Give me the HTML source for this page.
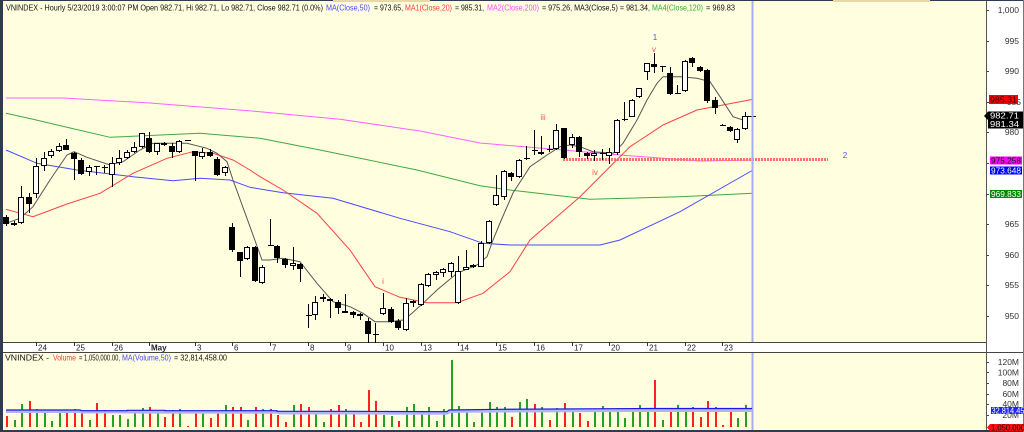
<!DOCTYPE html>
<html><head><meta charset="utf-8"><style>
html,body{margin:0;padding:0;background:#fff;}
svg{display:block;font-family:"Liberation Sans",Arial,sans-serif;}
</style></head><body>
<svg width="1024" height="432" viewBox="0 0 1024 432" xmlns="http://www.w3.org/2000/svg">
<rect x="0" y="0" width="1024" height="432" fill="#ffffff"/>
<rect x="3" y="1" width="983" height="341" fill="#ffffe0"/>
<rect x="3" y="353" width="983" height="77" fill="#ffffe0"/>
<rect x="3" y="342" width="983" height="10" fill="#ffffff"/>
<line x1="3" y1="342.5" x2="986" y2="342.5" stroke="#444" stroke-width="1"/>
<line x1="3" y1="352.5" x2="1024" y2="352.5" stroke="#444" stroke-width="1"/>
<line x1="986.5" y1="0" x2="986.5" y2="432" stroke="#555" stroke-width="1"/>
<rect x="0" y="0" width="3" height="432" fill="#2f3b50"/>
<rect x="0" y="0" width="1024" height="1" fill="#2f3b50"/>
<rect x="0" y="430" width="1024" height="2" fill="#2f3b50"/>
<rect x="1023" y="0" width="1" height="432" fill="#777"/>
<rect x="333" y="0" width="97" height="2" fill="#e8d8a8"/>
<rect x="833" y="0" width="97" height="2" fill="#e8d8a8"/>

<!-- header -->
<g font-size="8.5" fill="#111">
<text x="6" y="10.5" textLength="317" lengthAdjust="spacingAndGlyphs">VNINDEX - Hourly 5/23/2019 3:00:07 PM Open 982.71, Hi 982.71, Lo 982.71, Close 982.71 (0.0%)</text>
<text x="326" y="10.5" textLength="44" lengthAdjust="spacingAndGlyphs" fill="#4848ff">MA(Close,50)</text>
<text x="374" y="10.5" textLength="29" lengthAdjust="spacingAndGlyphs">= 973.65,</text>
<text x="405" y="10.5" textLength="47" lengthAdjust="spacingAndGlyphs" fill="#ff3838">MA1(Close,20)</text>
<text x="455" y="10.5" textLength="29" lengthAdjust="spacingAndGlyphs">= 985.31,</text>
<text x="487" y="10.5" textLength="52" lengthAdjust="spacingAndGlyphs" fill="#ff48ff">MA2(Close,200)</text>
<text x="542" y="10.5" textLength="108" lengthAdjust="spacingAndGlyphs">= 975.26, MA3(Close,5) = 981.34,</text>
<text x="652" y="10.5" textLength="51" lengthAdjust="spacingAndGlyphs" fill="#38a838">MA4(Close,120)</text>
<text x="706" y="10.5" textLength="29" lengthAdjust="spacingAndGlyphs">= 969.83</text>
</g>

<!-- moving averages -->
<g fill="none" stroke-width="1">
<polyline stroke="#ff60ff" points="6,98 63,98 150,103 260,111.7 340,119.3 420,131 480,143 563,150 620,155 700,161 753,160"/>
<polyline stroke="#40a840" points="6,113.3 33,119.3 110,137.3 200,133.3 260,138.3 320,150 417,170 480,185.7 510,190 590,199.3 680,196.7 753,193.3"/>
<polyline stroke="#4a4aff" points="6,150 37,163.3 77,170 133,176.7 173,180.7 200,178.3 230,180 250,187.3 283,192.7 333,198.3 400,218.3 450,231.7 483,243.3 510,245 600,245 620,240 680,211.7 753,170"/>
<polyline stroke="#ff4040" points="6,209.3 33,216.7 67,204 100,193.3 133,173.3 167,158.3 193,151.7 213,153.3 233,160 250,170 260,176.7 283,190 317,213.3 350,250 375,286.7 400,297.3 427,302.7 457,302.7 483,293.3 510,271.7 530,240 580,196.7 630,146.7 663,125 697,110 753,99.3"/>
<polyline stroke="#555" points="6,223.3 20,218.3 33,206.7 50,180 67,155 74,151.7 87,157.3 110,165 123,161.7 140,150 153,143.3 187,143.3 207,148.3 217,153.3 227,161.7 233,180 250,226.7 262,260 270,260 283,258.3 300,261.7 317,283.3 333,301.7 350,306.7 363,313.3 375,321.7 390,321.7 403,320 410,315 423,303.3 437,290 457,273.3 477,265 487,256.7 493,240 500,223 510,200 513,193 530,166.7 547,155 560,146.7 570,145 580,146.7 593,151.7 613,153.3 623,143.3 637,120 647,100 657,83.3 663,76.7 680,76.7 697,78.3 710,81.7 720,96.7 733,116.7 743,120"/>
</g>
<line x1="563" y1="159.5" x2="828" y2="159.5" stroke="#ff7070" stroke-width="3" stroke-dasharray="2 1"/>

<!-- candles -->
<path stroke="#000" stroke-width="1" fill="none" d="M6.5 215V226M14.5 221V226M21.5 186V224M29.5 193V213M36.5 158V198M44.5 152V171M51.5 149V158M59.5 143V152M66.5 139V150M74.5 152V180M81.5 158V175M89.5 165V176M96.5 166V175M104.5 165V173M112.5 157V187M119.5 150V165M127.5 150V159M134.5 142V153M142.5 133V148M149.5 132V153M157.5 143V155M164.5 142V146M172.5 143V158M179.5 140V153M195.5 151V181M202.5 148V159M210.5 149V157M217.5 157V176M225.5 166V176M232.5 223V252M240.5 252V277M247.5 246V260M255.5 246V282M262.5 265V284M270.5 219V246M277.5 245V263M285.5 258V268M293.5 247V270M300.5 263V282M308.5 304V328M315.5 296V320M323.5 294V302M330.5 298V318M338.5 300V314M345.5 294V313M353.5 311V318M360.5 313V320M368.5 318V343M375.5 323V343M383.5 293V315M391.5 307V323M398.5 319V330M406.5 298V331M413.5 300V307M421.5 283V306M428.5 273V287M436.5 271V280M443.5 268V277M451.5 262V277M458.5 256V304M466.5 250V270M473.5 264V268M481.5 241V267M489.5 220V244M496.5 175V206M504.5 170V200M511.5 172V181M519.5 159V178M526.5 146V160M534.5 130V155M541.5 136V155M549.5 145V152M556.5 124V150M564.5 128V159M572.5 134V148M579.5 136V157M587.5 152V159M594.5 150V161M602.5 149V160M609.5 148V164M617.5 119V155M624.5 102V121M632.5 99V117M639.5 88V98M647.5 63V80M654.5 53V73M662.5 66V72M670.5 67V95M677.5 85V94M685.5 60V92M692.5 57V67M700.5 66V72M707.5 69V103M715.5 97V114M722.5 124V126M730.5 126V132M737.5 128V143M745.5 112V130"/>
<path stroke="#000" stroke-width="1" fill="none" d="M94 166.5H100M102 167.5H108M185 140.5H191M268 245.5H274M306 315.5H312M373 334.5H379M524 158.5H530M532 150.5H538M547 149.5H553M600 153.5H606M622 119.5H628M660 66.5H666M675 93.5H681M720 125.5H726M745 116.5H756"/>
<g fill="#fff" stroke="#000" stroke-width="1">
<rect x="11.5" y="223.5" width="5" height="1"/>
<rect x="18.5" y="197.5" width="5" height="25"/>
<rect x="33.5" y="166.5" width="5" height="27"/>
<rect x="41.5" y="158.5" width="5" height="7"/>
<rect x="48.5" y="151.5" width="5" height="4"/>
<rect x="56.5" y="146.5" width="5" height="4"/>
<rect x="86.5" y="167.5" width="5" height="4"/>
<rect x="109.5" y="163.5" width="5" height="11"/>
<rect x="116.5" y="158.5" width="5" height="4"/>
<rect x="124.5" y="152.5" width="5" height="5"/>
<rect x="131.5" y="147.5" width="5" height="4"/>
<rect x="139.5" y="133.5" width="5" height="13"/>
<rect x="154.5" y="143.5" width="5" height="8"/>
<rect x="176.5" y="141.5" width="5" height="10"/>
<rect x="199.5" y="152.5" width="5" height="4"/>
<rect x="222.5" y="167.5" width="5" height="5"/>
<rect x="244.5" y="247.5" width="5" height="11"/>
<rect x="259.5" y="267.5" width="5" height="15"/>
<rect x="290.5" y="263.5" width="5" height="2"/>
<rect x="312.5" y="302.5" width="5" height="12"/>
<rect x="320.5" y="297.5" width="5" height="1"/>
<rect x="342.5" y="311.5" width="5" height="1"/>
<rect x="380.5" y="308.5" width="5" height="5"/>
<rect x="403.5" y="303.5" width="5" height="26"/>
<rect x="410.5" y="301.5" width="5" height="1"/>
<rect x="418.5" y="284.5" width="5" height="20"/>
<rect x="425.5" y="274.5" width="5" height="11"/>
<rect x="433.5" y="272.5" width="5" height="2"/>
<rect x="440.5" y="269.5" width="5" height="3"/>
<rect x="448.5" y="263.5" width="5" height="8"/>
<rect x="455.5" y="271.5" width="5" height="31"/>
<rect x="463.5" y="267.5" width="5" height="2"/>
<rect x="470.5" y="265.5" width="5" height="1"/>
<rect x="478.5" y="243.5" width="5" height="23"/>
<rect x="486.5" y="221.5" width="5" height="21"/>
<rect x="493.5" y="195.5" width="5" height="9"/>
<rect x="501.5" y="171.5" width="5" height="25"/>
<rect x="516.5" y="160.5" width="5" height="16"/>
<rect x="538.5" y="152.5" width="5" height="1"/>
<rect x="553.5" y="130.5" width="5" height="18"/>
<rect x="569.5" y="137.5" width="5" height="7"/>
<rect x="591.5" y="153.5" width="5" height="2"/>
<rect x="606.5" y="152.5" width="5" height="3"/>
<rect x="614.5" y="120.5" width="5" height="32"/>
<rect x="629.5" y="100.5" width="5" height="16"/>
<rect x="636.5" y="88.5" width="5" height="8"/>
<rect x="644.5" y="63.5" width="5" height="8"/>
<rect x="682.5" y="61.5" width="5" height="29"/>
<rect x="734.5" y="129.5" width="5" height="10"/>
<rect x="742.5" y="116.5" width="5" height="12"/>
</g>
<g fill="#000" stroke="#000" stroke-width="1">
<rect x="3.5" y="217.5" width="5" height="6"/>
<rect x="26.5" y="197.5" width="5" height="6"/>
<rect x="63.5" y="145.5" width="5" height="4"/>
<rect x="71.5" y="153.5" width="5" height="5"/>
<rect x="78.5" y="160.5" width="5" height="13"/>
<rect x="146.5" y="138.5" width="5" height="13"/>
<rect x="161.5" y="143.5" width="5" height="1"/>
<rect x="169.5" y="146.5" width="5" height="5"/>
<rect x="192.5" y="151.5" width="5" height="4"/>
<rect x="207.5" y="152.5" width="5" height="3"/>
<rect x="214.5" y="159.5" width="5" height="15"/>
<rect x="229.5" y="227.5" width="5" height="22"/>
<rect x="237.5" y="252.5" width="5" height="8"/>
<rect x="252.5" y="247.5" width="5" height="33"/>
<rect x="274.5" y="246.5" width="5" height="11"/>
<rect x="282.5" y="259.5" width="5" height="5"/>
<rect x="297.5" y="264.5" width="5" height="4"/>
<rect x="327.5" y="299.5" width="5" height="1"/>
<rect x="335.5" y="302.5" width="5" height="5"/>
<rect x="350.5" y="312.5" width="5" height="2"/>
<rect x="357.5" y="314.5" width="5" height="1"/>
<rect x="365.5" y="321.5" width="5" height="12"/>
<rect x="388.5" y="309.5" width="5" height="12"/>
<rect x="395.5" y="321.5" width="5" height="6"/>
<rect x="508.5" y="173.5" width="5" height="3"/>
<rect x="561.5" y="128.5" width="5" height="29"/>
<rect x="576.5" y="137.5" width="5" height="14"/>
<rect x="584.5" y="153.5" width="5" height="2"/>
<rect x="651.5" y="64.5" width="5" height="2"/>
<rect x="667.5" y="73.5" width="5" height="20"/>
<rect x="689.5" y="58.5" width="5" height="4"/>
<rect x="697.5" y="67.5" width="5" height="3"/>
<rect x="704.5" y="70.5" width="5" height="30"/>
<rect x="712.5" y="100.5" width="5" height="7"/>
<rect x="727.5" y="127.5" width="5" height="3"/>
</g>

<!-- wave labels -->
<g font-size="8">
<text x="543" y="120" fill="#ff5050" text-anchor="middle">iii</text>
<text x="595" y="175" fill="#ff5050" text-anchor="middle">iv</text>
<text x="654" y="52" fill="#ff5050" text-anchor="middle">v</text>
<text x="383" y="284" fill="#ff5050" text-anchor="middle">i</text>
<text x="655" y="40" fill="#5050ff" text-anchor="middle">1</text>
<text x="845" y="158" fill="#5050ff" text-anchor="middle">2</text>
</g>

<!-- vertical cursor line -->
<line x1="752.5" y1="1" x2="752.5" y2="342" stroke="#a8acf0" stroke-width="2"/>
<line x1="752.5" y1="353" x2="752.5" y2="430" stroke="#a8acf0" stroke-width="2"/>

<!-- date axis -->
<path stroke="#333" stroke-width="1" d="M36.5 342V346M74.5 342V346M112.5 342V346M149.5 342V346M195.5 342V346M232.5 342V346M270.5 342V346M308.5 342V346M345.5 342V346M383.5 342V346M421.5 342V346M458.5 342V346M496.5 342V346M534.5 342V346M572.5 342V346M609.5 342V346M647.5 342V346M685.5 342V346M722.5 342V346"/>
<g font-size="8" fill="#222">
<text x="38" y="350.5">24</text><text x="76" y="350.5">25</text><text x="114" y="350.5">26</text>
<text x="151" y="350.5" font-weight="bold">May</text><text x="197" y="350.5">3</text><text x="234" y="350.5">6</text>
<text x="272" y="350.5">7</text><text x="310" y="350.5">8</text><text x="347" y="350.5">9</text>
<text x="385" y="350.5">10</text><text x="423" y="350.5">13</text><text x="460" y="350.5">14</text>
<text x="498" y="350.5">15</text><text x="536" y="350.5">16</text><text x="574" y="350.5">17</text>
<text x="611" y="350.5">20</text><text x="649" y="350.5">21</text><text x="687" y="350.5">22</text>
<text x="724" y="350.5">23</text>
</g>

<!-- volume panel -->
<g font-size="8.5" fill="#111">
<text x="5" y="360.5" textLength="44" lengthAdjust="spacingAndGlyphs">VNINDEX -</text>
<text x="53" y="360.5" textLength="23" lengthAdjust="spacingAndGlyphs" fill="#ff3838">Volume</text>
<text x="79" y="360.5" textLength="41" lengthAdjust="spacingAndGlyphs">= 1,050,000.00,</text>
<text x="122" y="360.5" textLength="49" lengthAdjust="spacingAndGlyphs" fill="#4848ff">MA(Volume,50)</text>
<text x="174" y="360.5" textLength="53" lengthAdjust="spacingAndGlyphs">= 32,814,458.00</text>
</g>
<path stroke="#ff2020" stroke-width="2" d="M7 416V427M30 401V427M67 410V427M75 409V427M82 411V427M97 403V427M105 410V427M150 407V427M165 417V427M173 410V427M188 426V427M196 411V427M211 418V427M218 412V427M233 407V427M241 407V427M256 407V427M271 409V427M278 415V427M286 422V427M301 404V427M309 407V427M331 409V427M339 405V427M354 414V427M361 422V427M369 390V427M376 401V427M399 421V427M512 417V427M535 404V427M550 420V427M565 403V427M580 413V427M588 421V427M655 380V427M671 408V427M693 407V427M701 417V427M708 401V427M716 407V427M723 425V427M731 410V427"/>
<path stroke="#26a026" stroke-width="2" d="M15 420V427M22 404V427M37 409V427M45 411V427M52 421V427M60 412V427M90 420V427M113 415V427M120 415V427M128 419V427M135 413V427M143 408V427M158 411V427M180 409V427M203 411V427M226 405V427M248 420V427M263 409V427M294 405V427M316 413V427M324 422V427M346 409V427M384 415V427M392 416V427M407 407V427M414 404V427M422 412V427M429 407V427M437 421V427M444 409V427M452 360V427M459 406V427M467 411V427M474 422V427M482 409V427M490 402V427M497 407V427M505 407V427M520 402V427M527 399V427M542 407V427M557 408V427M573 410V427M595 412V427M603 406V427M610 411V427M618 408V427M625 418V427M633 408V427M640 405V427M648 409V427M663 420V427M678 405V427M686 408V427M738 418V427M746 405V427"/>
<polyline fill="none" stroke="#b4b4f4" stroke-width="3" points="6,411.5 80,411.5 82,412 127,412 165,412.3 277,412.3 280,413 353,413 390,413.2 447,413.2 450,411.5 500,411 650,410.5 752,410.5"/>
<polyline fill="none" stroke="#1818e8" stroke-width="1.2" points="6,410 80,410 82,410.7 127,410.7 127,410.3 165,410.3 165,410.7 277,410.7 277,411.3 353,411.3 390,411.5 447,411.7 449,410 500,409.3 650,408.5 752,408.5"/>

<!-- right axis -->
<path stroke="#444" stroke-width="1" d="M987 10.5H989M987 41.5H989M987 71.5H989M987 102.5H989M987 132.5H989M987 163.5H989M987 194.5H989M987 224.5H989M987 255.5H989M987 285.5H989M987 316.5H989M987 362.5H989M987 372.5H989M987 383.5H989M987 394.5H989M987 404.5H989M987 415.5H989"/>
<g font-size="8.5" fill="#333" text-anchor="end">
<text x="1019" y="13">1,000</text>
<text x="1019" y="44">995</text>
<text x="1019" y="74">990</text>
<text x="1021" y="105">985</text>
<text x="1019" y="135">980</text>
<text x="1019" y="227">965</text>
<text x="1019" y="258">960</text>
<text x="1019" y="288">955</text>
<text x="1019" y="319">950</text>
<text x="1019" y="365">120M</text>
<text x="1019" y="375.5">100M</text>
<text x="1019" y="386">80M</text>
<text x="1019" y="397">60M</text>
<text x="1019" y="407">40M</text>
<text x="1019" y="418">20M</text>
</g>
<g font-size="8.5">
<rect x="989" y="95" width="29" height="9" fill="#ff0000"/>
<text x="990" y="102.5" fill="#111" textLength="27" lengthAdjust="spacingAndGlyphs">985.31</text>
<path d="M984 116 L988 111.5 H1023 V128.5 H988 V120 Z" fill="#000"/>
<text x="990" y="118.5" fill="#fff" textLength="29" lengthAdjust="spacingAndGlyphs">982.71</text>
<text x="990" y="127" fill="#fff" textLength="29" lengthAdjust="spacingAndGlyphs">981.34</text>
<rect x="990" y="156.5" width="32" height="8" fill="#ff00ff"/>
<text x="991" y="163.5" fill="#111" textLength="30" lengthAdjust="spacingAndGlyphs">975.258</text>
<rect x="990" y="166.5" width="32" height="8" fill="#0000ff"/>
<text x="991" y="173.5" fill="#fff" textLength="30" lengthAdjust="spacingAndGlyphs">973.648</text>
<rect x="990" y="190" width="32" height="8" fill="#008a00"/>
<text x="991" y="197" fill="#fff" textLength="30" lengthAdjust="spacingAndGlyphs">969.833</text>
<rect x="991" y="407" width="33" height="7" fill="#2020ff"/>
<text x="991.5" y="413.5" fill="#fff" textLength="33" lengthAdjust="spacingAndGlyphs">32,814,45</text>
<path d="M987 427.5 L990 424 H1024 V431 H990 Z" fill="#ff1010"/>
<text x="991" y="430.5" fill="#111" textLength="34" lengthAdjust="spacingAndGlyphs">1,050,000</text>
</g>
</svg>
</body></html>
